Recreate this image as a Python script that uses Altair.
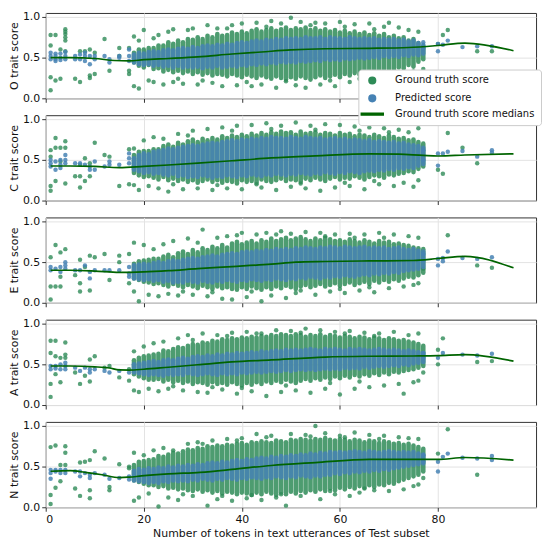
import altair as alt
import pandas as pd

SERIES = ["Ground truth score", "Predicted score", "Ground truth score medians"]
COLORS = ["#2e8b57", "#4682b4", "#006400"]
LINE_SHAPE = "M-3.3,-0.27H3.3V0.27H-3.3Z"
X_TICKS = [0, 20, 40, 60, 80]
Y_TICKS = [0, 0.5, 1.0]
X_DENSE = list(range(18, 78))

# ---------------- O ----------------
O_GLO = [44,40,38,41,36,37,33,35,32,34,31,33,30,32,29,31,28,30,29,27,30,28,26,29,27,25,28,26,24,27,
         25,23,26,24,27,25,23,26,28,25,27,29,26,30,28,31,29,32,30,33,35,32,36,34,38,37,41,39,45,48]
O_GHI = [56,60,60,62,62,65,65,69,67,71,69,73,72,75,73,77,75,79,77,78,81,79,82,80,83,85,82,84,86,83,
         85,87,84,86,85,87,84,86,83,85,82,84,81,83,80,82,79,81,78,80,77,79,75,77,74,75,71,73,68,64]
O_BLO = [44,42,41,42,40,41,39,40,38,40,38,39,38,39,37,39,38,40,38,39,40,39,41,40,42,41,43,42,44,43,
         45,44,45,44,46,45,46,47,46,48,47,48,47,49,48,49,50,49,50,51,50,52,51,52,51,53,52,54,53,55]
O_BHI = [54,56,55,57,58,57,59,60,59,61,62,61,63,62,64,65,64,66,65,67,66,68,69,68,70,71,70,72,71,73,
         72,74,73,74,73,75,74,74,75,73,75,74,74,73,75,74,73,74,73,74,72,73,72,73,71,72,70,71,68,66]
O_GREEN = [(1,78),(1,65),(1,26),(1,10),(2,78),(2,22),(3,60),(3,24),(4,85),(4,82),(4,79),(4,75),(4,71),
           (4,58),(6,24),(7,58),(7,20),(8,58),(9,60),(9,28),(9,25),(10,56),(10,30),(12,73),(13,34),
           (15,62),(15,52),(17,62),(17,34),(17,30),(18,76),(18,15),(19,12),(19,71),(20,84),(21,22),
           (22,74),(22,20),(23,78),(24,17),(25,82),(26,20),(26,85),(28,18),(29,84),(30,86),(31,17),
           (33,90),(34,19),(35,86),(36,15),(38,90),(39,16),(40,92),(42,15),(43,93),(44,17),(46,95),
           (47,13),(48,92),(50,99),(51,16),(52,94),(53,13),(55,93),(56,17),(57,92),(59,15),(60,94),
           (62,20),(63,91),(65,18),(66,92),(68,22),(69,88),(70,93),(71,25),(72,87),(73,27),(74,84),
           (75,33),(76,82),(76,30),(77,36),(80,67),(81,78),(82,84),(88,58),(91,58),
           (27,24),(32,22),(37,86),(41,20),(45,88),(49,21),(54,90),(58,22),(61,88),(64,24),(67,85),(70,28)]
O_BLUE = [(1,56),(1,52),(1,48),(2,55),(2,52),(2,48),(2,46),(3,55),(3,50),(3,47),(4,57),(4,52),(4,48),
          (6,52),(6,48),(7,54),(7,48),(8,56),(8,52),(8,46),(9,52),(9,42),(10,52),(10,48),(12,52),
          (13,48),(13,44),(15,52),(15,50),(17,60),(17,52),(17,46),(77,69),(77,62),(80,67),(80,58),
          (81,66),(82,71),(85,63),(88,64),(91,64)]
O_MX = [1,5,10,14,17,20,25,31,38,44,50,57,66,74,80,85.5,95.4]
O_MY = [50,50,49,46.5,46,47.5,49,51,54.5,57,59.5,61,61.5,62.5,65,68,58.5]

# ---------------- C ----------------
C_GLO = [34,31,29,30,28,26,29,25,27,24,26,23,25,22,24,26,23,25,22,24,23,21,25,23,24,22,26,24,23,25,
         27,24,26,25,23,27,25,28,26,24,27,29,26,28,27,30,28,26,29,31,30,28,32,31,33,34,36,35,39,42]
C_GHI = [56,60,61,61,63,63,67,69,66,71,69,73,75,72,76,74,77,75,79,77,80,78,81,79,82,80,83,81,84,82,
         85,83,84,81,85,82,83,84,81,83,82,80,83,81,82,79,81,80,78,81,79,77,80,78,76,77,74,75,72,70]
C_BLO = [38,36,34,35,33,34,32,31,33,30,31,29,30,29,31,30,28,30,29,31,30,29,31,30,32,31,30,32,31,33,
         32,31,33,32,34,33,32,34,33,35,34,33,35,34,36,35,34,36,37,36,38,37,39,38,40,39,41,40,43,45]
C_BHI = [52,56,58,57,60,61,62,64,63,65,66,67,68,67,69,70,71,70,72,73,74,73,75,74,76,75,77,76,78,77,
         77,76,78,77,76,78,77,76,77,75,76,77,75,76,74,75,74,73,74,72,73,72,71,72,70,71,69,68,67,65]
C_GREEN = [(1,62),(1,54),(1,18),(1,12),(2,77),(2,65),(2,24),(3,65),(3,48),(4,73),(4,65),(4,21),(6,30),
           (7,44),(7,30),(7,16),(8,52),(8,24),(9,46),(9,30),(10,71),(12,56),(13,54),(15,18),(17,63),
           (17,20),(18,64),(18,19),(19,13),(20,74),(21,18),(22,78),(23,15),(24,76),(25,11),(27,82),
           (28,14),(30,86),(31,15),(33,88),(34,13),(36,90),(37,15),(39,92),(40,14),(42,93),(44,16),
           (45,95),(47,13),(48,92),(50,17),(51,96),(53,15),(54,92),(56,12),(57,94),(59,16),(60,93),
           (62,18),(63,91),(65,14),(66,90),(68,20),(69,89),(71,18),(72,87),(73,22),(74,84),(75,17),
           (76,89),(76,25),(80,38),(81,33),(82,83),(85,65),(88,46),
           (26,20),(29,80),(35,19),(38,86),(43,20),(46,88),(52,21),(55,87),(61,22),(64,86),(67,24),(70,84)]
C_BLUE = [(1,50),(1,46),(1,42),(2,48),(2,38),(3,50),(3,44),(3,40),(4,56),(4,50),(4,46),(6,46),(7,46),
          (8,44),(9,42),(9,38),(10,48),(10,38),(12,42),(13,44),(13,48),(15,44),(17,58),(17,52),(17,46),
          (77,62),(77,50),(80,58),(80,43),(81,58),(82,60),(85,61),(88,54),(91,62),(91,59)]
C_MX = [1,5,10,15,20,25,31,38,46,55,66,72,77,80,85.5,95.4]
C_MY = [42.5,42.5,42,40.5,42,43.7,46,49,52.4,55,57.5,57,55.5,54.8,56,57.5]

# ---------------- E ----------------
E_GLO = [30,28,26,25,23,24,22,20,23,21,19,22,20,18,21,19,17,20,18,19,17,16,19,17,20,18,16,19,17,20,
         18,21,19,17,20,22,19,21,23,20,22,24,21,23,25,22,24,26,23,27,25,28,26,29,27,30,32,31,34,37]
E_GHI = [48,51,52,53,54,54,57,59,56,61,63,60,65,62,67,65,69,67,71,68,73,75,72,74,76,73,77,75,79,76,
         78,80,77,79,81,78,76,79,77,80,78,76,77,75,78,76,74,77,75,73,76,74,75,72,73,71,70,68,67,66]
E_BLO = [30,29,28,29,27,28,26,27,25,26,25,27,26,25,27,26,25,27,26,28,27,26,28,27,29,28,27,29,28,30,
         29,28,30,29,31,30,32,31,30,32,31,33,32,34,33,32,34,35,34,36,35,37,36,38,37,39,40,41,42,44]
E_BHI = [46,47,48,47,49,50,49,51,52,51,53,54,55,54,56,57,58,57,59,60,61,60,62,63,62,64,63,65,64,66,
         65,66,65,67,66,68,67,66,68,67,69,68,67,69,68,67,68,69,67,68,67,68,66,67,68,66,65,66,64,63]
E_GREEN = [(1,56),(1,20),(1,4),(2,71),(2,20),(3,62),(3,32),(3,20),(4,66),(6,34),(7,53),(7,24),(7,14),
           (8,44),(9,58),(9,15),(10,56),(12,60),(13,28),(15,58),(15,50),(17,60),(17,24),(18,74),(18,14),
           (19,2),(20,71),(21,10),(22,66),(23,8),(24,72),(25,11),(26,76),(27,9),(29,79),(30,10),(32,90),
           (33,8),(35,80),(36,5),(37,82),(38,4),(40,86),(41,7),(43,84),(44,2),(45,86),(46,9),(48,88),
           (49,6),(50,85),(51,12),(53,87),(55,10),(56,86),(58,14),(59,84),(61,12),(62,85),(64,15),
           (65,84),(67,13),(68,86),(70,18),(71,84),(73,20),(74,82),(75,22),(76,80),(76,24),(77,42),
           (82,83),(88,46),(91,43),
           (28,14),(31,74),(34,13),(39,83),(42,14),(47,84),(52,15),(57,82),(60,17),(63,80),(66,19),(69,80)]
E_BLUE = [(1,44),(1,40),(2,42),(3,44),(3,38),(4,50),(4,46),(4,42),(6,40),(7,40),(8,46),(9,38),(9,30),
          (10,40),(12,40),(13,40),(15,40),(17,44),(17,36),(17,32),(77,60),(77,52),(80,54),(80,46),
          (81,55),(81,51),(82,63),(85,55),(88,54),(91,56)]
E_MX = [1,5,10,15,20,25,31,38,46,51,57,66,75,80,85.5,95.4]
E_MY = [40,40,39,37.3,38,39.5,42,44.5,47.5,50,50.8,51.5,52,54.5,57.1,43]

# ---------------- A ----------------
A_GLO = [38,35,33,31,31,32,29,31,28,30,27,29,26,28,27,25,28,26,27,25,28,26,24,27,25,28,26,29,27,30,
         28,31,29,27,30,32,30,33,31,34,32,35,33,36,34,37,35,38,36,39,37,40,38,41,40,42,43,44,46,48]
A_GHI = [55,58,60,61,62,63,67,66,69,71,70,73,75,74,77,76,79,78,81,80,82,81,83,82,84,83,85,84,86,85,
         87,86,85,87,86,84,86,85,87,84,86,85,83,85,84,82,84,83,81,83,82,80,82,81,79,80,78,77,75,73]
A_BLO = [40,39,38,37,38,37,36,38,37,38,37,39,38,37,38,39,38,37,39,38,39,38,40,39,40,41,40,41,42,41,
         42,43,42,43,44,43,44,43,44,45,44,45,44,46,45,46,45,47,46,47,48,47,48,49,48,50,49,51,52,53]
A_BHI = [50,51,52,53,54,53,55,56,55,57,58,57,59,60,59,61,60,62,61,63,62,64,63,64,65,64,66,65,66,67,
         66,68,67,68,67,68,69,68,67,69,68,69,68,67,69,68,69,68,67,68,69,68,67,68,67,66,67,66,65,64]
A_GREEN = [(1,79),(1,64),(1,26),(1,10),(2,79),(2,60),(2,38),(3,58),(3,28),(4,77),(4,62),(4,58),(6,40),
           (7,26),(8,36),(9,56),(9,29),(10,60),(12,46),(13,48),(15,34),(17,44),(17,30),(18,66),(18,18),
           (19,16),(20,72),(21,20),(22,76),(23,17),(24,78),(25,20),(27,82),(28,18),(29,86),(31,16),
           (32,88),(33,15),(35,86),(36,19),(38,89),(39,14),(41,90),(42,17),(44,88),(45,11),(47,92),
           (48,16),(50,91),(51,18),(53,94),(54,15),(56,92),(57,20),(59,90),(60,13),(62,91),(63,20),
           (65,89),(66,22),(68,88),(69,24),(71,90),(72,26),(73,14),(74,86),(75,28),(76,88),(76,30),
           (77,40),(80,68),(80,50),(81,82),(88,53),(91,54),
           (26,23),(30,80),(34,22),(37,85),(40,21),(43,88),(49,24),(52,89),(58,27),(61,88),(64,29),(67,85)]
A_BLUE = [(1,48),(1,44),(2,48),(2,45),(3,50),(3,44),(4,52),(4,48),(4,44),(6,46),(7,42),(8,46),(9,44),
          (9,40),(10,44),(12,42),(13,40),(15,42),(17,40),(77,64),(77,58),(80,58),(81,64),(85,62),
          (88,61),(91,63)]
A_MX = [1,5,10,13,15,17,20,25,31,38,46,57,66,75,80,85.5,95.4]
A_MY = [48,48,47,45.5,43.2,43,44,46.5,49.5,53,55.5,59,60,60.3,60.7,61.9,54]

# ---------------- N ----------------
N_GLO = [33,31,29,27,27,25,26,23,24,22,23,21,20,22,19,21,18,20,17,19,18,16,18,17,15,18,16,19,17,15,
         18,16,19,17,20,18,21,19,22,20,23,21,24,22,25,23,26,24,27,25,28,27,30,29,32,34,36,38,40,44]
N_GHI = [52,56,57,58,59,63,62,65,67,66,69,71,70,73,72,75,74,76,75,77,76,78,79,77,80,79,81,80,79,82,
         81,80,83,82,84,83,82,84,83,85,83,82,84,83,81,83,82,80,82,81,79,81,80,78,79,77,78,76,74,72]
N_BLO = [33,32,31,30,31,30,32,31,33,32,33,32,34,33,35,34,33,35,34,36,35,34,36,35,37,36,35,37,36,38,
         37,36,38,37,39,38,37,39,38,40,40,42,41,43,42,44,43,45,44,46,45,47,46,48,49,50,51,52,53,54]
N_BHI = [45,47,46,48,47,49,48,50,49,51,50,52,51,53,52,54,55,54,56,55,57,58,57,59,58,60,61,60,62,61,
         63,62,64,63,65,64,66,65,67,66,68,67,68,67,68,69,68,67,69,68,67,68,69,68,67,68,67,68,66,65]
N_GREEN = [(1,74),(1,15),(1,4),(2,76),(2,24),(3,52),(3,32),(4,75),(4,67),(4,52),(6,23),(7,55),(7,14),
           (8,56),(9,58),(9,21),(9,11),(10,69),(12,60),(13,25),(13,21),(15,53),(17,50),(17,48),(18,67),
           (18,8),(19,12),(20,64),(21,17),(22,70),(23,1),(24,73),(25,12),(26,70),(27,9),(29,78),(30,14),
           (31,80),(33,2),(34,82),(35,10),(37,84),(38,8),(40,85),(41,11),(43,90),(44,9),(46,88),(47,12),
           (49,2),(50,90),(52,14),(53,89),(55,100),(56,10),(57,91),(59,16),(60,88),(62,14),(63,92),
           (64,18),(66,89),(67,21),(69,88),(70,20),(72,86),(73,22),(74,85),(75,26),(76,84),(76,28),
           (77,36),(80,66),(82,96),(88,40),
           (28,16),(32,78),(36,14),(39,82),(42,15),(45,86),(48,16),(54,87),(58,20),(61,86),(65,23),(68,84)]
N_BLUE = [(1,46),(1,42),(1,35),(2,46),(2,44),(3,46),(3,42),(4,46),(4,42),(6,44),(7,44),(7,38),(8,42),
          (9,40),(9,36),(10,42),(12,40),(13,35),(15,36),(17,38),(17,34),(77,64),(77,56),(80,56),(80,44),
          (81,62),(82,66),(85,61),(88,60),(91,63),(91,58)]
N_MX = [1,5,8,11.5,15,17,19.5,25,31.5,38,46,55,66,74,80,85.5,95.4]
N_MY = [44.3,45,43,40,36.5,37,38.5,41,43,46.5,51.4,55,58.8,59,58.8,61.2,58]

PANELS = [
    ("O", O_GLO, O_GHI, O_BLO, O_BHI, O_GREEN, O_BLUE, O_MX, O_MY),
    ("C", C_GLO, C_GHI, C_BLO, C_BHI, C_GREEN, C_BLUE, C_MX, C_MY),
    ("E", E_GLO, E_GHI, E_BLO, E_BHI, E_GREEN, E_BLUE, E_MX, E_MY),
    ("A", A_GLO, A_GHI, A_BLO, A_BHI, A_GREEN, A_BLUE, A_MX, A_MY),
    ("N", N_GLO, N_GHI, N_BLO, N_BHI, N_GREEN, N_BLUE, N_MX, N_MY),
]

W = 494
H = 86

legend = alt.Legend(
    title=None, orient="none", legendX=315, legendY=57,
    fillColor="white", strokeColor="#cccccc", cornerRadius=3, padding=6,
    labelFontSize=10, labelFont="DejaVu Sans", labelColor="#111111",
    symbolSize=45, symbolOpacity=1, symbolOffset=3, labelOffset=18, rowPadding=4,
)
color_enc = alt.Color("series:N", scale=alt.Scale(domain=SERIES, range=COLORS), legend=legend)
shape_enc = alt.Shape("series:N", scale=alt.Scale(domain=SERIES, range=["circle", "circle", LINE_SHAPE]),
                      legend=legend)


def panel(name, glo, ghi, blo, bhi, green, blue, mx, my, bottom):
    bands = pd.DataFrame({
        "x": X_DENSE,
        "glo": [v / 100 for v in glo], "ghi": [v / 100 for v in ghi],
        "blo": [v / 100 for v in blo], "bhi": [v / 100 for v in bhi],
    })
    g = pd.DataFrame({"x": [p[0] for p in green], "y": [p[1] / 100 for p in green], "series": SERIES[0]})
    b = pd.DataFrame({"x": [p[0] for p in blue], "y": [p[1] / 100 for p in blue], "series": SERIES[1]})
    m = pd.DataFrame({"x": mx, "y": [v / 100 for v in my], "series": SERIES[2]})

    xs = alt.Scale(domain=[0, 100], nice=False, zero=False)
    ys = alt.Scale(domain=[0, 1.05], nice=False)
    if bottom:
        xa = alt.Axis(values=X_TICKS, title="Number of tokens in text utterances of Test subset")
    else:
        xa = alt.Axis(values=X_TICKS, labels=False, title=None)
    ya = alt.Axis(values=Y_TICKS, format=".1f", title=f"{name} trait score")

    X = alt.X("x:Q", scale=xs, axis=xa)

    g_rule = alt.Chart(bands).mark_rule(strokeWidth=4.6, strokeCap="round", color=COLORS[0], opacity=0.85).encode(
        x=X, y=alt.Y("glo:Q", scale=ys, axis=ya), y2="ghi:Q")
    g_pts = alt.Chart(g).mark_point(filled=True, size=20, opacity=0.8, strokeWidth=0).encode(
        x=X, y=alt.Y("y:Q", scale=ys, axis=ya), color=color_enc, shape=shape_enc)
    b_rule = alt.Chart(bands).mark_rule(strokeWidth=4.6, strokeCap="round", color=COLORS[1], opacity=0.85).encode(
        x=X, y=alt.Y("blo:Q", scale=ys, axis=ya), y2="bhi:Q")
    b_pts = alt.Chart(b).mark_point(filled=True, size=20, opacity=0.85, strokeWidth=0).encode(
        x=X, y=alt.Y("y:Q", scale=ys, axis=ya), color=color_enc, shape=shape_enc)
    line = alt.Chart(m).mark_line(strokeWidth=1.7, interpolate="monotone").encode(
        x=X, y=alt.Y("y:Q", scale=ys, axis=ya), color=color_enc)

    return alt.layer(g_pts, g_rule, b_rule, b_pts, line).properties(width=W, height=H)


charts = [panel(*p, bottom=(i == len(PANELS) - 1)) for i, p in enumerate(PANELS)]

chart = alt.vconcat(*charts, spacing=8).properties(
    padding={"left": 0, "top": 0, "right": 0, "bottom": 0}
).configure_view(
    stroke="#333333", strokeWidth=1
).configure_axis(
    labelFont="DejaVu Sans", titleFont="DejaVu Sans", labelFontSize=11, titleFontSize=11,
    titleFontWeight="normal", labelColor="#111111", titleColor="#111111",
    tickColor="#333333", tickSize=4, domain=False, gridColor="#e3e3e3",
    labelPadding=2, titlePadding=3,
)

chart.save("out.html", embed_options={"renderer": "svg", "actions": False})
